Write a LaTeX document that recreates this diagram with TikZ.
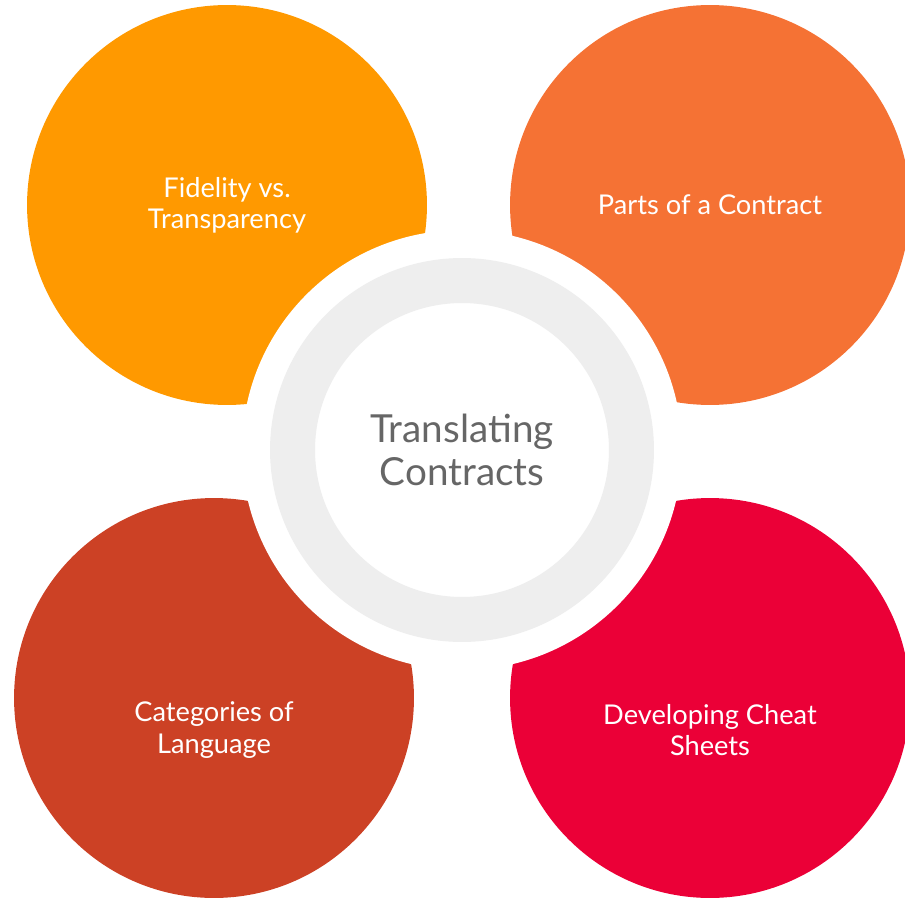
\documentclass[tikz,border=0pt]{standalone}
\usepackage{fontspec}
\setmainfont{Lato}
\usepackage{tikz}

\definecolor{fidorange}{HTML}{FF9900}
\definecolor{partsorange}{HTML}{F57234}
\definecolor{catred}{HTML}{CC4125}
\definecolor{cheatred}{HTML}{EB0037}
\definecolor{ringgray}{HTML}{EEEEEE}
\definecolor{titlegray}{HTML}{666666}

\tikzset{
  topic/.style={circle, fill=#1, minimum size=8cm, inner sep=0pt, outer sep=0pt},
  topictext/.style={text=white, align=center, font=\fontsize{15.5}{17.8}\selectfont},
}

\begin{document}
\begin{tikzpicture}[x=0.02cm,y=-0.02cm]
  \useasboundingbox (0,0) rectangle (905,898);

  % the four topics
  \node[topic=fidorange] (fidelity) at (227,205) {};
  \node[topic=partsorange] (parts) at (710,205) {};
  \node[topic=catred] (categories) at (214,698) {};
  \node[topic=cheatred] (cheat) at (710,698) {};

  \node[topictext] (fidelitytext) at (fidelity) {Fidelity vs.\\Transparency};
  \node[topictext] (partstext) at (parts) {Parts of a Contract};
  \node[topictext] (categoriestext) at ([yshift=-0.64cm]categories) {Categories of\\Language};
  \node[topictext] (cheattext) at ([yshift=-0.64cm]cheat) {Developing Cheat\\Sheets};

  % white gap round the hub
  \fill[white] (462,450) circle (4.4cm);

  \node[circle, draw=ringgray, line width=0.9cm, minimum size=6.78cm,
        text=titlegray, align=center, font=\fontsize{22}{24.5}\selectfont]
        (contracts) at (462,450) {Translating\\Contracts};
\end{tikzpicture}
\end{document}
